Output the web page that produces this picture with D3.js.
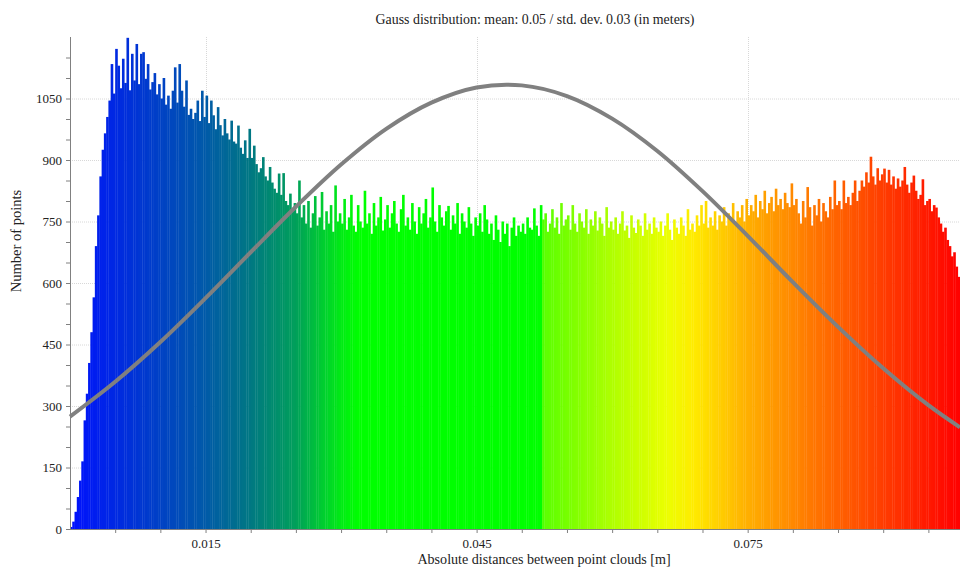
<!DOCTYPE html>
<html>
<head>
<meta charset="utf-8">
<script src="https://cdnjs.cloudflare.com/ajax/libs/d3/7.8.5/d3.min.js"></script>
<style>
  body { margin: 0; background: #fff; }
  svg text { font-family: "Liberation Serif", "DejaVu Serif", serif; fill: #222; }
</style>
</head>
<body>
<script>
// histogram: 394 bins of 0.00025 m starting at 0
var binStart = 0;
var binWidth = 0.00025;
var counts = [
  5, 18, 42, 78, 118, 165, 265, 330, 405, 480, 565, 690, 765, 860, 925, 965, 1005, 1045, 1134, 1062,
  1171, 1130, 1075, 1147, 1088, 1198, 1070, 1159, 1094, 1183, 1085, 1159, 1163, 1098, 1134, 1072, 1090, 1112, 1060, 1085,
  1050, 1100, 1035, 1057, 1025, 1069, 1126, 1040, 1134, 1069, 1030, 1094, 1010, 1025, 1000, 1015, 1045, 995, 1069, 1005,
  1057, 990, 1045, 1009, 975, 1029, 985, 960, 1000, 965, 950, 996, 945, 940, 984, 930, 915, 948, 905, 976,
  905, 935, 890, 870, 880, 907, 860, 850, 883, 845, 830, 820, 867, 815, 868, 800, 790, 818, 780, 795,
  770, 850, 760, 790, 745, 800, 735, 770, 812, 740, 760, 822, 730, 775, 745, 790, 725, 838, 750, 770,
  745, 805, 730, 760, 815, 740, 725, 790, 750, 735, 825, 745, 770, 720, 795, 740, 760, 810, 728, 755,
  790, 735, 770, 800, 745, 725, 780, 815, 740, 760, 730, 795, 750, 720, 785, 745, 770, 805, 735, 760,
  833, 750, 725, 790, 760, 740, 775, 788, 730, 765, 745, 795, 720, 770, 750, 735, 785, 745, 715, 760,
  740, 770, 725, 790, 755, 720, 745, 705, 765, 730, 700, 750, 720, 745, 690, 735, 760, 715, 740, 725,
  745, 720, 760, 735, 730, 782, 740, 715, 790, 755, 770, 725, 745, 780, 735, 760, 720, 795, 740, 755,
  765, 730, 790, 745, 725, 770, 750, 735, 780, 720, 755, 740, 775, 728, 760, 745, 715, 785, 735, 750,
  730, 760, 720, 745, 775, 728, 740, 710, 765, 735, 722, 755, 740, 715, 770, 730, 745, 720, 760, 735,
  725, 750, 715, 740, 770, 730, 705, 755, 735, 720, 760, 740, 715, 780, 730, 745, 725, 765, 740, 790,
  745, 800, 735, 760, 740, 775, 730, 765, 750, 785, 740, 770, 755, 795, 745, 775, 760, 790, 750, 805,
  765, 790, 775, 815, 760, 800, 780, 825, 770, 795, 810, 775, 830, 790, 805, 780, 820, 795, 785, 843,
  790, 805, 770, 745, 800, 760, 834, 785, 740, 790, 765, 805, 750, 795, 775, 760, 810, 780, 850, 790,
  800, 780, 850, 795, 810, 790, 820, 850, 800, 825, 850, 835, 870, 845, 908, 860, 840, 880, 850, 865,
  879, 845, 876, 840, 860, 830, 855, 835, 850, 883, 840, 820, 845, 862, 825, 805, 815, 853, 790, 800,
  805, 775, 790, 784, 760, 745, 725, 735, 705, 690, 665, 675, 640, 615
];

// grey gauss curve
var curveX = [0, 0.005, 0.01, 0.015, 0.02, 0.025, 0.03, 0.035, 0.04, 0.045, 0.05, 0.055, 0.06, 0.065, 0.07, 0.075, 0.08, 0.085, 0.09, 0.095, 0.0985];
var curveY = [274, 359, 456, 563, 675, 786, 889, 976, 1040, 1077, 1082, 1056, 1001, 922, 824, 715, 602, 493, 392, 302, 248];

// colour scale stops (distance -> colour)
var colorStops = [0, 0.015, 0.02, 0.025, 0.03, 0.032, 0.0522, 0.0524, 0.06, 0.066, 0.069, 0.075, 0.082, 0.09, 0.0985];
var colorValues = ["#0010ff", "#005aa8", "#007882", "#00a05a", "#00eb14", "#00ff00", "#00ff00", "#5aff00", "#afff00", "#ebff00", "#ffeb00", "#ffaf00", "#ff7800", "#ff3c00", "#ff0000"];

var yTicks = [0, 150, 300, 450, 600, 750, 900, 1050];
var xTicks = [0.015, 0.045, 0.075];

var title = "Gauss distribution: mean: 0.05 / std. dev. 0.03 (in meters)";
var xTitle = "Absolute distances between point clouds [m]";
var yTitle = "Number of points";

var width = 960, height = 567;
var margin = {top: 37, right: 0, bottom: 38, left: 70};

var svg = d3.select("body").append("svg")
    .attr("width", width)
    .attr("height", height);

var x = d3.scaleLinear().domain([0, 0.0985]).range([margin.left, width - margin.right]);
var y = d3.scaleLinear().domain([0, 1200]).range([height - margin.bottom, margin.top]);
var colour = d3.scaleLinear().domain(colorStops).range(colorValues).clamp(true);

// grid
var grid = svg.append("g").attr("stroke", "#d8d8d8").attr("stroke-dasharray", "1,1");
grid.selectAll(".hg").data(yTicks.filter(function(d) { return d > 0; }))
  .enter().append("line")
    .attr("x1", margin.left).attr("x2", width)
    .attr("y1", function(d) { return y(d) + 0.5; })
    .attr("y2", function(d) { return y(d) + 0.5; });
grid.selectAll(".vg").data(xTicks)
  .enter().append("line")
    .attr("y1", margin.top).attr("y2", y(0))
    .attr("x1", function(d) { return Math.round(x(d)) + 0.5; })
    .attr("x2", function(d) { return Math.round(x(d)) + 0.5; });

// bars
svg.append("g").selectAll("rect")
  .data(counts)
  .enter().append("rect")
    .attr("x", function(d, i) { return x(binStart + i * binWidth); })
    .attr("width", function(d, i) { return x(binStart + (i + 1) * binWidth) - x(binStart + i * binWidth) + 0.35; })
    .attr("y", function(d) { return y(d); })
    .attr("height", function(d) { return y(0) - y(d); })
    .attr("fill", function(d, i) { return colour(binStart + (i + 0.5) * binWidth); });

// gauss curve
var line = d3.line()
    .x(function(d, i) { return x(curveX[i]); })
    .y(function(d) { return y(d); })
    .curve(d3.curveCatmullRom);
svg.append("path")
    .datum(curveY)
    .attr("d", line)
    .attr("fill", "none")
    .attr("stroke", "#808080")
    .attr("stroke-width", 4);

// axes
var xAxis = d3.axisBottom(x)
    .tickValues(d3.range(1, 20).map(function(k) { return k * 0.005; }))
    .tickSize(4)
    .tickFormat(function(d) { return xTicks.some(function(t) { return Math.abs(t - d) < 1e-9; }) ? d3.format(".3f")(d) : ""; });
var gx = svg.append("g")
    .attr("transform", "translate(0," + y(0) + ")")
    .call(xAxis);
gx.select(".domain").attr("stroke", "#808080").attr("d", "M" + margin.left + ",0.5H" + width);
gx.selectAll(".tick line").attr("stroke", "#808080");
gx.selectAll(".tick text").attr("font-size", 13).attr("font-family", "Liberation Serif").attr("fill", "#222").attr("dy", "0.95em");

var yAxis = d3.axisLeft(y)
    .tickValues(d3.range(0, 1200, 50))
    .tickSize(4)
    .tickFormat(function(d) { return yTicks.indexOf(d) >= 0 ? d : ""; });
var gy = svg.append("g")
    .attr("transform", "translate(" + margin.left + ",0)")
    .call(yAxis);
gy.select(".domain").attr("stroke", "#808080").attr("d", "M0.5," + margin.top + "V" + y(0));
gy.selectAll(".tick line").attr("stroke", "#808080");
gy.selectAll(".tick text").attr("font-size", 13).attr("font-family", "Liberation Serif").attr("fill", "#222").attr("x", -8);

// titles
svg.append("text")
    .attr("x", 535).attr("y", 24)
    .attr("text-anchor", "middle")
    .attr("font-size", 13.9)
    .text(title);
svg.append("text")
    .attr("x", 544).attr("y", 564)
    .attr("text-anchor", "middle")
    .attr("font-size", 14.1)
    .text(xTitle);
svg.append("text")
    .attr("transform", "translate(21,241) rotate(-90)")
    .attr("text-anchor", "middle")
    .attr("font-size", 14.5)
    .text(yTitle);
</script>
</body>
</html>
